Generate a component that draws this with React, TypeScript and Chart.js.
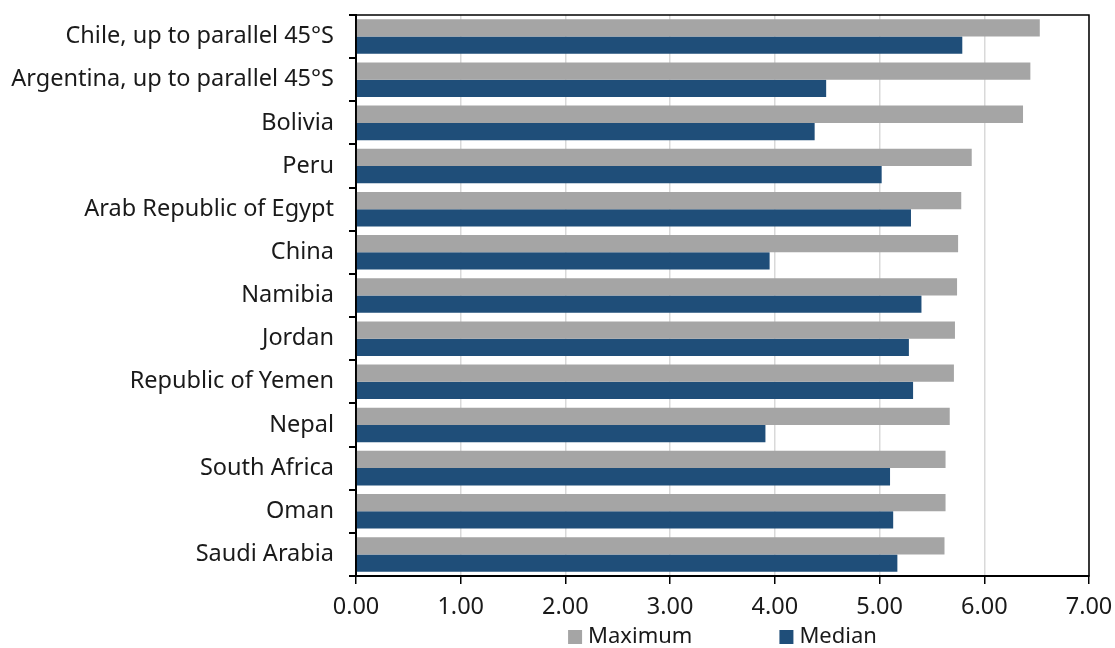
import React, { useEffect, useRef } from "react";
import { Chart, registerables } from "chart.js";

Chart.register(...registerables);

const categories = [
  "Chile, up to parallel 45°S",
  "Argentina, up to parallel 45°S",
  "Bolivia",
  "Peru",
  "Arab Republic of Egypt",
  "China",
  "Namibia",
  "Jordan",
  "Republic of Yemen",
  "Nepal",
  "South Africa",
  "Oman",
  "Saudi Arabia",
];

const maximumValues = [6.53, 6.44, 6.37, 5.88, 5.78, 5.75, 5.74, 5.72, 5.71, 5.67, 5.63, 5.63, 5.62];
const medianValues = [5.79, 4.49, 4.38, 5.02, 5.3, 3.95, 5.4, 5.28, 5.32, 3.91, 5.1, 5.13, 5.17];

const seriesLabels = ["Maximum", "Median"];
const seriesColors = ["#A5A5A5", "#1F4E79"];

const FONT = "'Noto Sans', Lato, sans-serif";
const TEXT_COLOR = "#1a1a1a";

const frameAndLegend = {
  id: "frameAndLegend",
  afterDraw(chart: any) {
    const { ctx, chartArea } = chart;
    ctx.save();
    ctx.strokeStyle = "#000";
    ctx.lineWidth = 1.5;
    ctx.strokeRect(chartArea.left, chartArea.top, chartArea.right - chartArea.left, chartArea.bottom - chartArea.top);

    // legend
    ctx.font = `22px ${FONT}`;
    ctx.textBaseline = "middle";
    ctx.textAlign = "left";
    const box = 14;
    const gapBoxText = 6;
    const gapItems = 87;
    const ds = chart.data.datasets;
    const widths = ds.map((d: any) => box + gapBoxText + ctx.measureText(d.label).width);
    const total = widths.reduce((a: number, b: number) => a + b, 0) + gapItems * (ds.length - 1);
    let x = (chartArea.left + chartArea.right) / 2 - total / 2;
    const y = 637;
    ds.forEach((d: any, i: number) => {
      ctx.fillStyle = d.backgroundColor;
      ctx.fillRect(x, y - box / 2, box, box);
      ctx.fillStyle = TEXT_COLOR;
      ctx.fillText(d.label, x + box + gapBoxText, y);
      x += widths[i] + gapItems;
    });
    ctx.restore();
  },
};

export default function App() {
  const ref = useRef<HTMLCanvasElement | null>(null);

  useEffect(() => {
    if (!ref.current) return;
    const chart = new Chart(ref.current, {
      type: "bar",
      data: {
        labels: categories,
        datasets: [
          { label: seriesLabels[0], data: maximumValues, backgroundColor: seriesColors[0] },
          { label: seriesLabels[1], data: medianValues, backgroundColor: seriesColors[1] },
        ],
      },
      options: {
        indexAxis: "y",
        responsive: false,
        animation: false,
        layout: { padding: { top: 15, right: 26, bottom: 28, left: 0 } },
        datasets: { bar: { categoryPercentage: 0.8, barPercentage: 1.0 } },
        plugins: {
          legend: { display: false },
          tooltip: { enabled: false },
        },
        scales: {
          x: {
            min: 0,
            max: 7,
            ticks: {
              stepSize: 1,
              padding: 9,
              color: TEXT_COLOR,
              font: { family: FONT, size: 23.5 },
              callback: (v: any) => Number(v).toFixed(2),
            },
            grid: { color: "#D9D9D9", lineWidth: 1.5, tickColor: "#000", tickLength: 8 },
            border: { color: "#000", width: 2 },
            afterFit: (s: any) => {
              s.height = 44;
              s.paddingLeft = 0;
              s.paddingRight = 0;
            },
          },
          y: {
            ticks: {
              padding: 15,
              color: TEXT_COLOR,
              font: { family: FONT, size: 23.5 },
            },
            grid: { drawOnChartArea: false, tickColor: "#000", tickLength: 7, lineWidth: 2, offset: true },
            border: { color: "#000", width: 2 },
            afterFit: (s: any) => {
              s.width = 356;
              s.paddingTop = 0;
              s.paddingBottom = 0;
            },
          },
        },
      },
      plugins: [frameAndLegend],
    });
    return () => chart.destroy();
  }, []);

  return (
    <div style={{ position: "fixed", left: 0, top: 0, width: 1115, height: 648, background: "#fff" }}>
      <canvas ref={ref} width={1115} height={648} />
    </div>
  );
}
